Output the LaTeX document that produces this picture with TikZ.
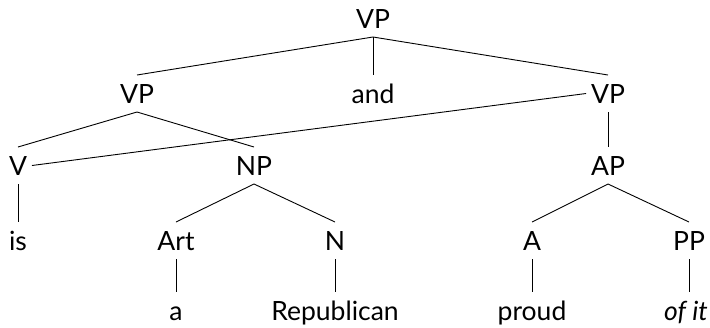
\documentclass[tikz,border=0pt]{standalone}
\usepackage{fontspec}
\setmainfont{Lato}
\begin{document}
\begin{tikzpicture}[x=1pt,y=-1pt,
  lab/.style={inner sep=0pt, outer xsep=5pt, outer ysep=9pt, text height=19pt, text depth=0pt, font=\fontsize{26.5}{26.5}\selectfont},
  edge/.style={line width=0.9pt, draw=black}]
\useasboundingbox (0,0) rectangle (710,327);
% baselines: 28, 103, 175, 250, 320
\node[lab, anchor=base] (vp)   at (373,28)  {VP};
\node[lab, anchor=base] (vpL)  at (137,103) {VP};
\node[lab, anchor=base] (and)  at (373,103) {and};
\node[lab, anchor=base] (vpR)  at (608,103) {VP};
\node[lab, anchor=base] (v)    at (18,175)  {V};
\node[lab, anchor=base] (np)   at (254,175) {NP};
\node[lab, anchor=base] (ap)   at (608,175) {AP};
\node[lab, anchor=base] (is)   at (18,250)  {is};
\node[lab, anchor=base] (art)  at (176,250) {Art};
\node[lab, anchor=base] (n)    at (335,250) {N};
\node[lab, anchor=base] (adj)  at (532,250) {A};
\node[lab, anchor=base] (pp)   at (689,250) {PP};
\node[lab, anchor=base] (a)    at (176,320) {a};
\node[lab, anchor=base] (rep)  at (335,320) {Republican};
\node[lab, anchor=base] (proud) at (532,320) {proud};
\node[lab, anchor=base] (ofit) at (686,320) {\itshape of it};
\draw[edge] (vp.south) -- (vpL.north);
\draw[edge] (vp.south) -- (and.north);
\draw[edge] (vp.south) -- (vpR.north);
\draw[edge] (vpL.south) -- (v.north);
\draw[edge] (vpL.south) -- (np.north);
\draw[edge] (vpR.west) -- (v.east);
\draw[edge] (vpR.south) -- (ap.north);
\draw[edge] (v.south) -- (is.north);
\draw[edge] (np.south) -- (art.north);
\draw[edge] (np.south) -- (n.north);
\draw[edge] (ap.south) -- (adj.north);
\draw[edge] (ap.south) -- (pp.north);
\draw[edge] (art.south) -- (a.north);
\draw[edge] (n.south) -- (rep.north);
\draw[edge] (adj.south) -- (proud.north);
\draw[edge] (pp.south) -- (ofit.north -| pp.south);
\end{tikzpicture}
\end{document}
